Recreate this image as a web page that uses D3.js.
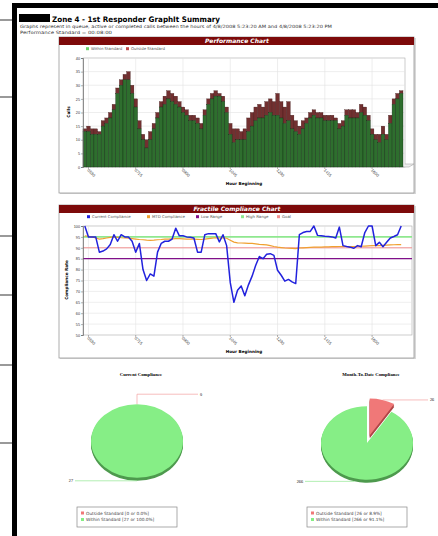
<!DOCTYPE html>
<html>
<head>
<meta charset="utf-8">
<script src="https://cdn.jsdelivr.net/npm/d3@7"></script>
<style>
	body { margin: 0; background: #fff; }
	svg { display: block; font-family: "DejaVu Sans", Verdana, sans-serif; }
</style>
</head>
<body>
<div id="chart"></div>
<script>
// DATA
var hourLabels = ["0530", "0715", "0900", "1045", "1230", "1415", "1600"];
var hourTickIdx = [1, 14, 27, 40, 53, 66, 79];

// calls per interval: total and within standard (outside = total - within)
var totalCalls = [14, 15, 14, 14, 13, 17, 18, 20, 23, 29, 32, 34, 35, 30, 25, 17, 12, 10, 13, 16,
	20, 24, 26, 28, 27, 26, 24, 22, 21, 19, 19, 18, 16, 21, 25, 27, 28, 27, 26, 22,
	16, 14, 14, 13, 14, 18, 20, 22, 23, 22, 24, 25, 24, 27, 24, 22, 24, 19, 17, 15,
	17, 18, 20, 21, 20, 20, 19, 19, 19, 18, 16, 17, 21, 21, 21, 20, 23, 22, 19, 14,
	12, 12, 15, 12, 19, 25, 27, 28];
var withinCalls = [13, 13, 12, 12, 12, 15, 16, 18, 21, 27, 30, 32, 32, 27, 22, 14, 10, 7, 10, 14,
	18, 22, 23, 25, 24, 23, 22, 20, 19, 17, 17, 16, 14, 19, 23, 25, 26, 26, 24, 20,
	12, 9, 10, 10, 10, 13, 15, 17, 18, 18, 19, 20, 19, 19, 18, 16, 17, 14, 13, 12,
	14, 16, 18, 19, 18, 18, 17, 17, 17, 17, 14, 15, 19, 18, 18, 18, 20, 19, 17, 12,
	10, 9, 12, 10, 16, 23, 25, 27];

var currentComp = [100, 95, 95, 95, 88, 88.5, 89.5, 91.5, 96, 93, 96, 95, 95, 93, 88, 92, 80, 75, 78, 77,
	88, 92, 93, 93, 94, 99, 95.5, 95.5, 95, 94.8, 94.5, 88, 88, 96, 96.5, 96.5, 96.5, 92.7, 96, 91,
	74, 65, 70.5, 72.5, 68, 73, 77, 82, 86, 85, 87, 87.3, 86.5, 79.7, 77.4, 74.7, 75.5, 74.4, 73.6, 96,
	97, 97.5, 97.5, 100, 95.7, 95.5, 95.3, 95.2, 95, 94.5, 99.5, 91, 90.6, 90.3, 89.8, 91, 90.5, 97, 100, 100,
	91, 92.5, 90.5, 92.5, 94.5, 95.2, 96, 100];
var mtdComp = [95.5, 95.3, 95, 94.5, 94, 94.2, 94.5, 94.8, 95, 94.8, 94.6, 94.5, 94.4, 94.2, 94, 93.8, 93.7, 93.5, 93.4, 93.5,
	93.7, 93.8, 94, 94, 94.1, 94.2, 94.2, 94.1, 94, 94, 94, 93.9, 93.8, 94, 94.2, 94.4, 94.6, 94.5, 94.6, 94.4,
	93.5, 92.6, 92.3, 92.2, 92.1, 92, 92, 91.8, 91.6, 91.5, 91.3, 91, 90.6, 90.3, 90.1, 89.9, 89.8, 89.7, 89.6, 89.9,
	90, 90.1, 90.2, 90.3, 90.3, 90.3, 90.4, 90.4, 90.5, 90.5, 90.6, 90.6, 90.6, 90.6, 90.6, 90.7, 90.7, 90.8, 90.9, 91,
	91, 91, 91.1, 91.2, 91.3, 91.4, 91.5, 91.5];
var lowRange = 85, highRange = 95, goal = 90;

var pieNames = ["Outside Standard", "Within Standard"];
var currentPie = [0, 27];
var mtdPie = [26, 266];

var C = {
	header: "#7d0a0a", green: "#2e6e2e", red: "#723030",
	blue: "#2222dd", orange: "#f0a030", purple: "#80108a", high: "#8fe88f", goal: "#f29090",
	pieG: "#86ee86", pieGd: "#4e9a4e", pieR: "#f07878", pieRd: "#b04646"
};

var svg = d3.select("#chart").append("svg").attr("width", 438).attr("height", 536);
svg.append("rect").attr("width", 438).attr("height", 536).attr("fill", "#fff");

// marks in the margin of the photographed page
[20, 97, 236, 295, 365, 443].forEach(function(y) {
	svg.append("line").attr("x1", 0).attr("x2", 13).attr("y1", y).attr("y2", y)
		.attr("stroke", "#555").attr("stroke-width", 1.2);
});

// black frame
svg.append("rect").attr("x", 12).attr("y", 3).attr("width", 426).attr("height", 5).attr("fill", "#000");
svg.append("rect").attr("x", 12).attr("y", 3).attr("width", 5).attr("height", 533).attr("fill", "#000");

// HEADER
svg.append("rect").attr("x", 19).attr("y", 14).attr("width", 31).attr("height", 8).attr("fill", "#000");
svg.append("text").attr("x", 52).attr("y", 21.5)
	.attr("textLength", 168).attr("lengthAdjust", "spacingAndGlyphs")
	.style("font-size", "7.6px").style("font-weight", "bold")
	.text("Zone 4 - 1st Responder GraphIt Summary");
svg.append("text").attr("x", 20).attr("y", 27.5)
	.attr("textLength", 312).attr("lengthAdjust", "spacingAndGlyphs")
	.style("font-size", "4.4px").attr("fill", "#333")
	.text("Graphs represent in queue, active or completed calls between the  hours of 4/8/2008 5:23:20 AM and  4/8/2008 5:23:20 PM");
svg.append("text").attr("x", 20).attr("y", 34)
	.attr("textLength", 92).attr("lengthAdjust", "spacingAndGlyphs")
	.style("font-size", "4.4px").attr("fill", "#333")
	.text("Performance Standard = 00:08:00");

function panel(y, h, title) {
	var g = svg.append("g");
	g.append("rect").attr("x", 60).attr("y", y + 1).attr("width", 356).attr("height", h)
		.attr("fill", "#d8d8d8");
	g.append("rect").attr("x", 59).attr("y", y).attr("width", 355).attr("height", h)
		.attr("fill", "#fff").attr("stroke", "#999").attr("stroke-width", 0.8);
	g.append("rect").attr("x", 59).attr("y", y).attr("width", 355).attr("height", 8).attr("fill", C.header);
	g.append("text").attr("x", 237).attr("y", y + 6.2).attr("text-anchor", "middle")
		.attr("fill", "#fff").style("font-size", "6px").style("font-style", "italic").style("font-weight", "bold")
		.text(title);
	return g;
}

function legend(g, y, items) {
	items.forEach(function(it) {
		g.append("rect").attr("x", it.x).attr("y", y - 2.8).attr("width", 3).attr("height", 3).attr("fill", it.color);
		g.append("text").attr("x", it.x + 5).attr("y", y).style("font-size", "3.9px").attr("fill", "#555").text(it.name);
	});
}

function styleAxis(a) {
	a.selectAll("text").style("font-size", "3.8px").attr("fill", "#333");
	a.selectAll("line").attr("stroke", "#666").attr("stroke-width", 0.5);
	a.select(".domain").attr("stroke", "#666").attr("stroke-width", 0.7);
}

// shared x scale (one band per interval)
var x = d3.scaleBand().domain(d3.range(totalCalls.length)).range([83, 403]);
var xc = function(i) { return x(i) + x.bandwidth() / 2; };

function xAxis(g, yPos) {
	var a = g.append("g").attr("transform", "translate(0," + yPos + ")")
		.call(d3.axisBottom(x).tickValues(hourTickIdx).tickSize(2)
			.tickFormat(function(d, i) { return hourLabels[i]; }));
	styleAxis(a);
	a.select(".domain").remove();
	a.selectAll("text").attr("text-anchor", "start").attr("x", 1.5).attr("y", 2).attr("dy", "0.35em")
		.attr("fill", "#444").style("font-size", "4.2px")
		.attr("transform", "rotate(45)");
	return a;
}

// PERFORMANCE CHART
var p1 = panel(37, 156, "Performance Chart");
legend(p1, 50, [
	{ x: 86, name: "Within Standard", color: "#6ad36a" },
	{ x: 126, name: "Outside Standard", color: "#c04848" }
]);

var y1 = d3.scaleLinear().domain([0, 40]).range([167, 58]);
var plot1 = p1.append("g");
plot1.append("rect").attr("x", 83).attr("y", 58).attr("width", 322).attr("height", 109)
	.attr("fill", "#fff").attr("stroke", "#aaa").attr("stroke-width", 0.6);
plot1.selectAll(".hg").data(d3.range(5, 40, 5)).enter().append("line")
	.attr("x1", 83).attr("x2", 405).attr("y1", y1).attr("y2", y1).attr("stroke", "#e2e2e2").attr("stroke-width", 0.6);
plot1.selectAll(".vg").data(hourTickIdx).enter().append("line")
	.attr("x1", xc).attr("x2", xc).attr("y1", 58).attr("y2", 167).attr("stroke", "#e2e2e2").attr("stroke-width", 0.6);
// 3d floor edge
plot1.append("path").attr("d", "M403,167 L409,167 L414,164 L405,164")
	.attr("fill", "#eee").attr("stroke", "#999").attr("stroke-width", 0.5);

plot1.selectAll(".out").data(totalCalls).enter().append("rect")
	.attr("x", function(d, i) { return x(i); }).attr("width", x.bandwidth())
	.attr("y", function(d) { return y1(d); })
	.attr("height", function(d, i) { return y1(withinCalls[i]) - y1(d); })
	.attr("fill", C.red).attr("stroke", "#3a1414").attr("stroke-width", 0.3);
plot1.selectAll(".in").data(withinCalls).enter().append("rect")
	.attr("x", function(d, i) { return x(i); }).attr("width", x.bandwidth())
	.attr("y", function(d) { return y1(d); })
	.attr("height", function(d) { return y1(0) - y1(d); })
	.attr("fill", C.green).attr("stroke", "#142e14").attr("stroke-width", 0.4);

styleAxis(p1.append("g").attr("transform", "translate(83,0)")
	.call(d3.axisLeft(y1).tickValues(d3.range(0, 41, 5)).tickSize(2).tickPadding(1)));
xAxis(p1, 167);
p1.append("text").attr("transform", "translate(70,112) rotate(-90)").attr("text-anchor", "middle")
	.style("font-size", "4.2px").style("font-weight", "bold").text("Calls");
p1.append("text").attr("x", 244).attr("y", 185).attr("text-anchor", "middle")
	.style("font-size", "4.2px").style("font-weight", "bold").text("Hour Beginning");

// FRACTILE COMPLIANCE CHART
var p2 = panel(205, 153, "Fractile Compliance Chart");
legend(p2, 218, [
	{ x: 87, name: "Current Compliance", color: C.blue },
	{ x: 147, name: "MTD Compliance", color: C.orange },
	{ x: 196, name: "Low Range", color: C.purple },
	{ x: 241, name: "High Range", color: C.high },
	{ x: 277, name: "Goal", color: C.goal }
]);

var y2 = d3.scaleLinear().domain([50, 100]).range([335, 226]);
var plot2 = p2.append("g");
plot2.append("rect").attr("x", 83).attr("y", 226).attr("width", 329).attr("height", 109)
	.attr("fill", "#fff").attr("stroke", "#aaa").attr("stroke-width", 0.6);
plot2.selectAll(".hg").data(d3.range(55, 100, 5)).enter().append("line")
	.attr("x1", 83).attr("x2", 412).attr("y1", y2).attr("y2", y2).attr("stroke", "#e2e2e2").attr("stroke-width", 0.6);
plot2.selectAll(".vg").data(hourTickIdx).enter().append("line")
	.attr("x1", xc).attr("x2", xc).attr("y1", 226).attr("y2", 335).attr("stroke", "#e2e2e2").attr("stroke-width", 0.6);

[{ v: highRange, c: C.high, w: 1.6 }, { v: goal, c: C.goal, w: 1 }, { v: lowRange, c: C.purple, w: 1.2 }]
	.forEach(function(r) {
		plot2.append("line").attr("x1", 83).attr("x2", 412).attr("y1", y2(r.v)).attr("y2", y2(r.v))
			.attr("stroke", r.c).attr("stroke-width", r.w);
	});

var line2 = d3.line().x(function(d, i) { return xc(i); }).y(function(d) { return y2(d); });
plot2.append("path").datum(mtdComp).attr("d", line2).attr("fill", "none")
	.attr("stroke", C.orange).attr("stroke-width", 1.2);
plot2.append("path").datum(currentComp).attr("d", line2).attr("fill", "none")
	.attr("stroke", C.blue).attr("stroke-width", 1.5).attr("stroke-linejoin", "round");

styleAxis(p2.append("g").attr("transform", "translate(83,0)")
	.call(d3.axisLeft(y2).tickValues(d3.range(50, 101, 5)).tickSize(2).tickPadding(1)));
xAxis(p2, 335);
p2.append("text").attr("transform", "translate(68,280) rotate(-90)").attr("text-anchor", "middle")
	.style("font-size", "4.2px").style("font-weight", "bold").text("Compliance Rate");
p2.append("text").attr("x", 244).attr("y", 353).attr("text-anchor", "middle")
	.style("font-size", "4.2px").style("font-weight", "bold").text("Hour Beginning");

// PIES
var rx = 46, squash = 0.8, depth = 3;
var pie = d3.pie().sort(null).value(function(d) { return d; });
var arc = d3.arc().innerRadius(0).outerRadius(rx);
var fills = [C.pieR, C.pieG], sides = [C.pieRd, C.pieGd], leads = ["#f4a0a0", "#90e890"];

function pie3d(cx, cy, title, values) {
	var g = svg.append("g");
	var total = d3.sum(values);
	g.append("text").attr("x", cx + 4).attr("y", 376).attr("text-anchor", "middle")
		.style("font-family", "'Liberation Serif', serif").style("font-size", "4.8px").style("font-weight", "bold")
		.text(title);

	var slices = pie(values);
	function off(s) {
		// explode the smaller slice
		if (s.index !== 0 || s.value === 0) return [0, 0];
		var m = (s.startAngle + s.endAngle) / 2;
		return [Math.sin(m) * 10, -Math.cos(m) * 10];
	}
	// side walls first, then top faces
	d3.range(depth, 0, -1).forEach(function(d) {
		slices.forEach(function(s) {
			if (s.value === 0) return;
			var o = off(s);
			g.append("path").attr("d", arc(s))
				.attr("transform", "translate(" + cx + "," + (cy + d) + ") scale(1," + squash + ") translate(" + o[0] + "," + o[1] + ")")
				.attr("fill", sides[s.index]);
		});
	});
	slices.forEach(function(s) {
		if (s.value === 0) return;
		var o = off(s);
		g.append("path").attr("d", arc(s))
			.attr("transform", "translate(" + cx + "," + cy + ") scale(1," + squash + ") translate(" + o[0] + "," + o[1] + ")")
			.attr("fill", fills[s.index]);
	});

	// leader lines and value labels
	slices.forEach(function(s) {
		var m = (s.startAngle + s.endAngle) / 2, o = off(s);
		var ax = cx + Math.sin(m) * rx + o[0],
			ay = cy + (-Math.cos(m) * rx + o[1]) * squash;
		var right = Math.abs(Math.sin(m)) > 0.01 ? Math.sin(m) > 0 : Math.cos(m) > 0;
		var ex = right ? cx + 61 : cx - 62;
		var pts;
		if (Math.cos(m) > 0.99) pts = [[ax, ay], [ax, ay - 10], [ex, ay - 10]];
		else if (Math.cos(m) < -0.9) pts = [[ax, ay + depth], [ex, ay + depth]];
		else pts = [[ax, ay], [ex, ay]];
		var ly = pts[pts.length - 1][1];
		g.append("path").attr("d", d3.line()(pts)).attr("fill", "none")
			.attr("stroke", leads[s.index]).attr("stroke-width", 0.7);
		g.append("text").attr("x", right ? ex + 2 : ex - 2).attr("y", ly + 1.3)
			.attr("text-anchor", right ? "start" : "end")
			.style("font-family", "'Liberation Serif', serif").style("font-size", "4.2px")
			.text(s.value);
	});

	// legend box
	var lx = cx - 60, ly0 = 507;
	g.append("rect").attr("x", lx).attr("y", ly0).attr("width", 100).attr("height", 20)
		.attr("fill", "#fff").attr("stroke", "#888").attr("stroke-width", 0.7);
	values.forEach(function(v, i) {
		var ty = ly0 + 7.5 + i * 6.5;
		g.append("rect").attr("x", lx + 4).attr("y", ty - 3).attr("width", 3).attr("height", 3).attr("fill", fills[i]);
		g.append("text").attr("x", lx + 9).attr("y", ty).style("font-size", "4.3px").attr("fill", "#444")
			.text(pieNames[i] + " [" + v + " or " + (v / total * 100).toFixed(1) + "%]");
	});
}

pie3d(137, 441, "Current Compliance", currentPie);
pie3d(367, 443, "Month-To-Date Compliance", mtdPie);
</script>
</body>
</html>
